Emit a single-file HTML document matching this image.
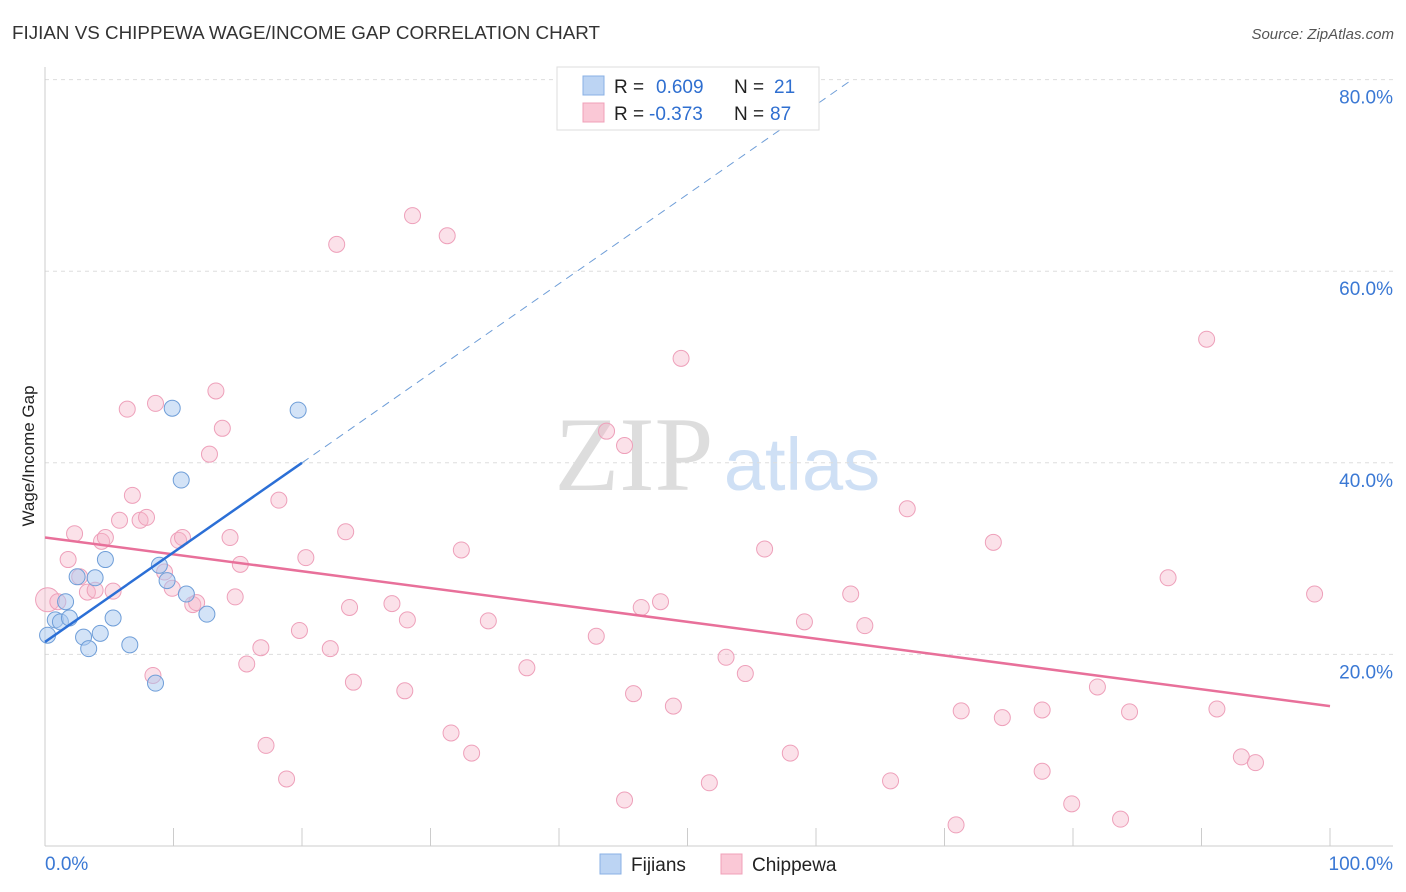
<!DOCTYPE html>
<html><head><meta charset="utf-8"><style>
body{margin:0;background:#fff;font-family:"Liberation Sans",sans-serif;}
svg{display:block}
</style></head><body>
<svg id="chart" width="1406" height="892">
<text x="12" y="39" font-size="18" fill="#333" textLength="588" lengthAdjust="spacingAndGlyphs">FIJIAN VS CHIPPEWA WAGE/INCOME GAP CORRELATION CHART</text>
<text x="1394" y="39" font-size="15" fill="#555" font-style="italic" text-anchor="end">Source: ZipAtlas.com</text>
<text x="634" y="490" font-size="106" fill="#ddd" font-family="Liberation Serif,serif" text-anchor="middle">ZIP</text>
<text x="802" y="490" font-size="74" fill="#cfe0f5" text-anchor="middle">atlas</text>
<text x="34" y="456" font-size="17" fill="#222" text-anchor="middle" transform="rotate(-90 34 456)">Wage/Income Gap</text>
<g id="grid"></g><g id="pts"></g><g id="lines"></g>
<g>
<rect x="557" y="67" width="262" height="63" fill="#fff" stroke="#ddd"/>
<rect x="583" y="76" width="21" height="19" fill="#bcd4f3" stroke="#8ab0e4"/>
<rect x="583" y="103" width="21" height="19" fill="#fac8d6" stroke="#f0a0b8"/>
<text x="614" y="93" font-size="19" fill="#222">R = <tspan x="656" fill="#2f6fd0">0.609</tspan></text>
<text x="734" y="93" font-size="19" fill="#222">N = <tspan x="774" fill="#2f6fd0">21</tspan></text>
<text x="614" y="120" font-size="19" fill="#222">R = <tspan x="649" fill="#2f6fd0">-0.373</tspan></text>
<text x="734" y="120" font-size="19" fill="#222">N = <tspan x="770" fill="#2f6fd0">87</tspan></text>
</g>
<g>
<rect x="600" y="854" width="21" height="20" fill="#bcd4f3" stroke="#8ab0e4"/>
<text x="631" y="871" font-size="19" fill="#222">Fijians</text>
<rect x="721" y="854" width="21" height="20" fill="#fac8d6" stroke="#f0a0b8"/>
<text x="752" y="871" font-size="19" fill="#222">Chippewa</text>
</g>
</svg>
<script>
const yTicks=[20,40,60,80];
const xTickLabels=["0.0%","100.0%"];
const fijX=[0.2,0.8,1.2,1.6,1.9,2.5,3.0,3.4,3.9,4.3,4.7,5.3,6.6,8.6,8.9,9.5,9.9,10.6,11.0,12.6,19.7];
const fijY=[22.0,23.6,23.4,25.5,23.8,28.1,21.8,20.6,28.0,22.2,29.9,23.8,21.0,17.0,29.3,27.7,45.7,38.2,26.3,24.2,45.5];
const chiX=[0.2,1.0,1.8,2.3,2.7,3.3,3.9,4.4,4.7,5.3,5.8,6.4,6.8,7.4,7.9,8.4,8.6,9.3,9.9,10.4,10.7,11.5,11.8,12.8,13.3,13.8,14.4,14.8,15.2,15.7,16.8,17.2,18.2,18.8,19.8,20.3,22.2,22.7,23.4,23.7,24.0,27.0,28.0,28.2,28.6,31.3,31.6,32.4,33.2,34.5,37.5,42.9,43.7,45.1,45.1,45.8,46.4,47.9,48.9,49.5,51.7,53.0,54.5,56.0,58.0,59.1,62.7,63.8,65.8,67.1,70.9,71.3,73.8,74.5,77.6,77.6,79.9,81.9,83.7,84.4,87.4,90.4,91.2,93.1,94.2,98.8];
const chiY=[25.7,25.5,29.9,32.6,28.1,26.5,26.7,31.8,32.2,26.6,34.0,45.6,36.6,34.0,34.3,17.8,46.2,28.6,26.9,31.9,32.2,25.2,25.4,40.9,47.5,43.6,32.2,26.0,29.4,19.0,20.7,10.5,36.1,7.0,22.5,30.1,20.6,62.8,32.8,24.9,17.1,25.3,16.2,23.6,65.8,63.7,11.8,30.9,9.7,23.5,18.6,21.9,43.3,4.8,41.8,15.9,24.9,25.5,14.6,50.9,6.6,19.7,18.0,31.0,9.7,23.4,26.3,23.0,6.8,35.2,2.2,14.1,31.7,13.4,7.8,14.2,4.4,16.6,2.8,14.0,28.0,52.9,14.3,9.3,8.7,26.3];
const fijTrend=[[0,21.3],[20,40.0],[62.6,79.8]];
const chiTrend=[[0,32.2],[100,14.6]];
const NS="http://www.w3.org/2000/svg";
const X=v=>45+v*12.85, Y=v=>846-v*9.58;
function mk(parent,tag,attrs){const e=document.createElementNS(NS,tag);for(const k in attrs)e.setAttribute(k,attrs[k]);document.getElementById(parent).appendChild(e);return e;}
yTicks.forEach(t=>{
 const l=mk('grid','line',{x1:45,x2:1393,y1:Y(t),y2:Y(t),stroke:'#ddd','stroke-dasharray':'4 4'});
 
 
 const tx=mk('grid','text',{x:1393,y:Y(t)+24,'font-size':19,fill:'#3a78d4','text-anchor':'end'});tx.textContent=t.toFixed(1)+'%';
 
 
});
let a=mk('grid','line',{x1:45,x2:45,y1:67,y2:846,stroke:'#ccc'});


a=mk('grid','line',{x1:45,x2:1393,y1:846,y2:846,stroke:'#ccc'});


for(let i=0;i<=10;i++){const t=mk('grid','line',{x1:X(i*10),x2:X(i*10),y1:828,y2:846,stroke:'#ccc'});
 
 }
xTickLabels.forEach((s,i)=>{const t=mk('grid','text',{x:i?1393:45,y:870,'font-size':19,fill:'#3a78d4','text-anchor':i?'end':'start'});t.textContent=s;
 
 });
chiX.forEach((v,i)=>{const c=mk('pts','circle',{cx:X(v),cy:Y(chiY[i]),r:i===0?12:8,fill:'rgba(246,180,200,0.4)',stroke:'#eea0ba','stroke-width':1});
 
 });
fijX.forEach((v,i)=>{const c=mk('pts','circle',{cx:X(v),cy:Y(fijY[i]),r:8,fill:'rgba(168,200,240,0.5)',stroke:'#6f9ed8','stroke-width':1});
 
 });
let l=mk('lines','line',{x1:X(chiTrend[0][0]),y1:Y(chiTrend[0][1]),x2:X(chiTrend[1][0]),y2:Y(chiTrend[1][1]),stroke:'#e8709a','stroke-width':2.5});


l=mk('lines','line',{x1:X(fijTrend[0][0]),y1:Y(fijTrend[0][1]),x2:X(fijTrend[1][0]),y2:Y(fijTrend[1][1]),stroke:'#2b6fd6','stroke-width':2.5});


l=mk('lines','line',{x1:X(fijTrend[1][0]),y1:Y(fijTrend[1][1]),x2:X(fijTrend[2][0]),y2:Y(fijTrend[2][1]),stroke:'#6f9ed8','stroke-width':1,'stroke-dasharray':'8 6'});


</script>
</body></html>
